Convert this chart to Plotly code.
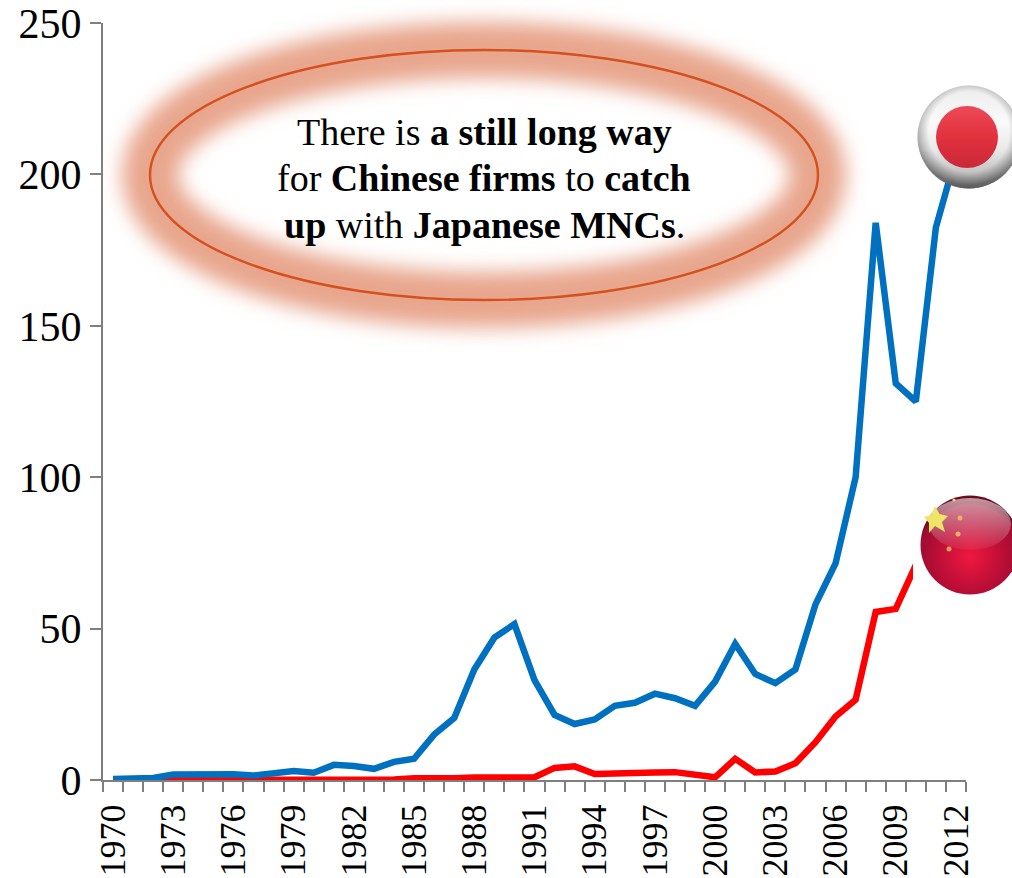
import base64
import plotly.graph_objects as go

years = list(range(1970, 2013))
japan_fdi = [0.3, 0.4, 0.7, 1.8, 1.9, 1.7, 1.9, 1.5, 2.4, 3.0, 2.4, 5.0, 4.6, 3.7, 6.0, 7.0,
             15.0, 20.5, 36.5, 47.0, 51.5, 33.0, 21.5, 18.5, 20.0, 24.5, 25.5, 28.5, 27.0, 24.5,
             32.5, 45.0, 35.0, 32.0, 36.5, 58.0, 71.5, 100.0, 184.0, 131.0, 125.0, 182.5, 206.0]
china_fdi = [0.0, 0.0, 0.0, 0.1, 0.1, 0.1, 0.1, 0.1, 0.1, 0.1, 0.1, 0.2, 0.2, 0.2, 0.2, 0.6,
             0.4, 0.6, 0.8, 0.8, 0.8, 0.9, 4.0, 4.5, 2.0, 2.0, 2.1, 2.5, 2.6, 1.7,
             0.9, 7.0, 2.5, 2.8, 5.5, 12.5, 21.0, 26.5, 55.5, 56.5, 71.0, 75.0, 88.0]
label_years = list(range(1970, 2013, 3))
y_ticks = [0, 50, 100, 150, 200, 250]
callout_lines = [
    "There is <b>a still long way</b>",
    "for <b>Chinese firms</b> to <b>catch</b>",
    "<b>up</b> with <b>Japanese MNCs</b>.",
]
callout_rows = [132, 178, 225]

WIDTH, HEIGHT = 1012, 878
LEFT, RIGHT, TOP, BOTTOM = 103, 966, 23, 780
AXIS_GREY = "#7f7f7f"
SERIF = "Liberation Serif"


def svg_uri(body, w, h):
    svg = f'<svg xmlns="http://www.w3.org/2000/svg" width="{w}" height="{h}" viewBox="0 0 {w} {h}">{body}</svg>'
    return "data:image/svg+xml;base64," + base64.b64encode(svg.encode()).decode()


def placed(source, px, py, w, h):
    # Position an overlay by page pixels, converted to paper coordinates.
    return dict(source=source, xref="paper", yref="paper",
                x=(px - LEFT) / (RIGHT - LEFT), y=1 - (py - TOP) / (BOTTOM - TOP),
                sizex=w / (RIGHT - LEFT), sizey=h / (BOTTOM - TOP),
                xanchor="left", yanchor="top", sizing="stretch", layer="above")


glow = svg_uri(
    '<defs><filter id="b" filterUnits="userSpaceOnUse" x="0" y="0" width="800" height="370">'
    '<feGaussianBlur stdDeviation="10"/></filter></defs>'
    '<ellipse cx="400" cy="185" rx="334" ry="125" fill="none" stroke="#e8a68d" '
    'stroke-width="56" filter="url(#b)"/>'
    '<ellipse cx="400" cy="185" rx="334" ry="125" fill="none" stroke="#d5501c" stroke-width="2.4"/>',
    800, 370)

japan_flag = svg_uri(
    '<defs>'
    '<linearGradient id="s" x1="0" y1="0" x2="0" y2="1">'
    '<stop offset="0" stop-color="#d4d4d4"/><stop offset="0.35" stop-color="#f4f4f4"/>'
    '<stop offset="0.62" stop-color="#cfcfcf"/><stop offset="0.85" stop-color="#777"/>'
    '<stop offset="1" stop-color="#333"/></linearGradient>'
    '<radialGradient id="e" cx="0.5" cy="0.45" r="0.52">'
    '<stop offset="0.75" stop-color="#fff" stop-opacity="0.55"/>'
    '<stop offset="1" stop-color="#777" stop-opacity="0.6"/></radialGradient>'
    '<linearGradient id="r" x1="0" y1="0" x2="0" y2="1">'
    '<stop offset="0" stop-color="#ec4a58"/><stop offset="0.5" stop-color="#e2303e"/>'
    '<stop offset="1" stop-color="#c92a38"/></linearGradient></defs>'
    '<circle cx="52" cy="52" r="51.5" fill="url(#s)"/>'
    '<circle cx="52" cy="52" r="51.5" fill="url(#e)"/>'
    '<circle cx="50" cy="52" r="31" fill="url(#r)"/>',
    104, 104)

# The China badge sits on a white patch that hides the tail of the red line.
china_flag = svg_uri(
    '<defs>'
    '<radialGradient id="c" cx="0.5" cy="0.62" r="0.55">'
    '<stop offset="0" stop-color="#f0183f"/><stop offset="0.55" stop-color="#c00f38"/>'
    '<stop offset="0.95" stop-color="#9c0c30"/><stop offset="1" stop-color="#6d0a20"/></radialGradient>'
    '<linearGradient id="g" x1="0" y1="0" x2="0" y2="1">'
    '<stop offset="0" stop-color="#fff" stop-opacity="0.58"/>'
    '<stop offset="1" stop-color="#fff" stop-opacity="0.05"/></linearGradient></defs>'
    '<rect width="107" height="100" fill="#fff"/>'
    '<g transform="translate(7 0)">'
    '<circle cx="50" cy="50" r="49.5" fill="url(#c)"/>'
    '<ellipse cx="50" cy="29" rx="41" ry="26" fill="url(#g)"/>'
    '<polygon points="15,11 19.5,19 28,21 22,27 25,37 15,31 9,38 9,28 4,22 11,20" fill="#efe566"/>'
    '<circle cx="34" cy="5" r="1.6" fill="#f0d070"/>'
    '<circle cx="40" cy="23" r="2.5" fill="#f0b060"/>'
    '<circle cx="38" cy="39" r="2.5" fill="#f0b060"/>'
    '<circle cx="29" cy="54" r="2.5" fill="#e8a050"/>'
    '</g>',
    107, 100)

fig = go.Figure()
fig.add_trace(go.Scatter(x=years, y=china_fdi, mode="lines", cliponaxis=False,
                         line=dict(color="#ff0000", width=6.5)))
fig.add_trace(go.Scatter(x=years, y=japan_fdi, mode="lines", cliponaxis=False,
                         line=dict(color="#0070c0", width=6.5)))

fig.update_layout(
    width=WIDTH, height=HEIGHT, autosize=False, showlegend=False,
    paper_bgcolor="white", plot_bgcolor="white",
    margin=dict(l=LEFT, r=WIDTH - RIGHT, t=TOP, b=HEIGHT - BOTTOM, pad=0, autoexpand=False),
    font=dict(family=SERIF, color="black", size=42),
    images=[placed(glow, 84, -10, 800, 370),
            placed(japan_flag, 917, 85, 104, 104),
            placed(china_flag, 913, 495, 107, 100)],
    annotations=[dict(
        xref="paper", yref="paper",
        x=(484 - LEFT) / (RIGHT - LEFT), y=1 - (row - TOP) / (BOTTOM - TOP),
        xanchor="center", yanchor="middle", align="center", showarrow=False,
        font=dict(family=SERIF, size=38, color="black"), text=line,
    ) for line, row in zip(callout_lines, callout_rows)],
)
fig.update_xaxes(
    range=[1969.5, 2012.5], showgrid=False, zeroline=False, automargin=False,
    showline=True, linecolor=AXIS_GREY, linewidth=2,
    tickmode="array", tickvals=label_years, ticktext=[str(y) for y in label_years],
    ticks="", tickangle=-90, ticklabelstandoff=8,
    tickfont=dict(family=SERIF, size=36, color="black"),
    minor=dict(ticks="outside", tick0=1969.5, dtick=1, ticklen=10, tickwidth=2,
               tickcolor=AXIS_GREY, showgrid=False),
)
fig.update_yaxes(
    range=[0, 250], showgrid=False, zeroline=False, automargin=False,
    showline=True, linecolor=AXIS_GREY, linewidth=2,
    tickmode="array", tickvals=y_ticks,
    ticks="outside", ticklen=11, tickwidth=2, tickcolor=AXIS_GREY,
    tickfont=dict(family=SERIF, size=42, color="black"),
)

fig.write_html("out.html")
